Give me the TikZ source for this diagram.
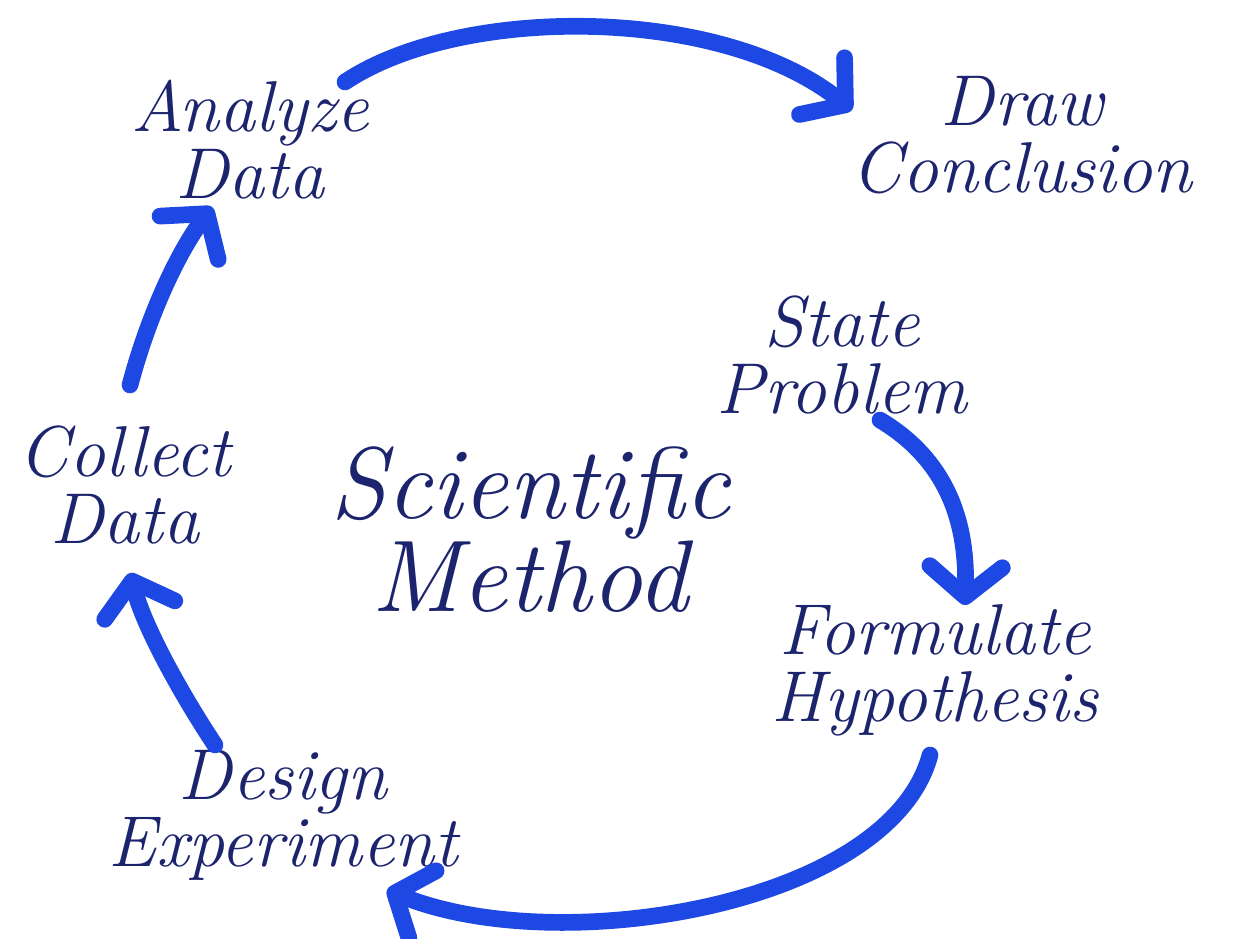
\documentclass[tikz,border=0pt]{standalone}
\usetikzlibrary{positioning,arrows.meta}
\usepackage{xcolor}
\definecolor{inkblue}{RGB}{28,36,110}
\definecolor{arrowblue}{RGB}{30,72,228}
\tikzset{
  stage/.style={text=inkblue,align=center,font=\itshape\fontsize{41}{38}\selectfont},
  flow/.style={draw=arrowblue,line width=9.5pt,line cap=round,
    -{Straight Barb[length=0.6cm,width=1.45cm,line cap=round,line join=round]}}
}

\begin{document}
\begin{tikzpicture}[x=0.02cm,y=-0.02cm]
\useasboundingbox (0,0) rectangle (1240,939);
    \node[stage] (analyze) at (250,140) {Analyze\\Data};
    \node[stage] (conclusion) at (1022,135) {Draw\\Conclusion};
    \node[stage] (problem) at (842,355) {State\\Problem};
    \node[stage] (hypothesis) at (935,670) {Formulate\\Hypothesis};
    \node[stage] (experiment) at (283,815) {Design\\Experiment};
    \node[stage] (collect) at (125,485) {Collect\\Data};
    \node[stage,font=\itshape\fontsize{58}{48}\selectfont] (method) at (530,530) {Scientific\\Method};

    \coordinate (analyze-out) at (345,82);
    \coordinate (conclusion-in) at (852,110);
    \coordinate (problem-out) at (880,420);
    \coordinate (hypothesis-in) at (965,605);
    \coordinate (hypothesis-out) at (930,755);
    \coordinate (experiment-in) at (387,890);
    \coordinate (experiment-out) at (215,745);
    \coordinate (collect-in) at (130,573);
    \coordinate (collect-out) at (130,385);
    \coordinate (analyze-in) at (212,207);

    \draw[flow] (analyze-out) .. controls (460,5) and (720,5) .. (conclusion-in);
    \draw[flow] (problem-out) .. controls (930,450) and (968,500) .. (hypothesis-in);
    \draw[flow] (hypothesis-out) .. controls (890,905) and (560,960) .. (experiment-in);
    \draw[flow] (experiment-out) .. controls (185,700) and (145,630) .. (collect-in);
    \draw[flow] (collect-out) .. controls (150,310) and (180,250) .. (analyze-in);
\end{tikzpicture}
\end{document}
